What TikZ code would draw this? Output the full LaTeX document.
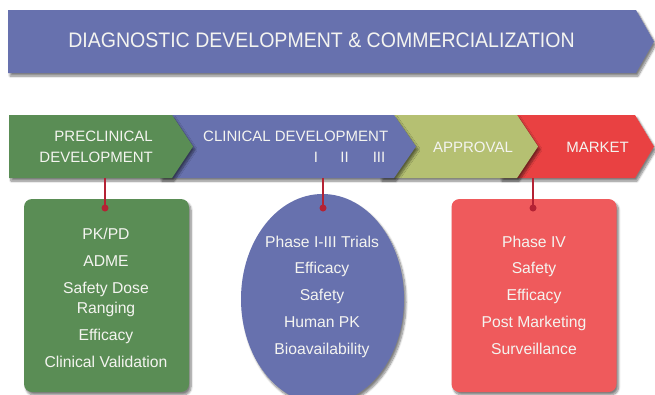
\documentclass[tikz,border=0pt]{standalone}
\usepackage{fontspec}
\setmainfont{Liberation Sans}
\newfontfamily\bannerfont[FakeStretch=0.93]{Liberation Sans}
\usetikzlibrary{shapes.geometric,shadows.blur}
\definecolor{stageblue}{HTML}{6771AE}
\definecolor{stagegreen}{HTML}{5A8D55}
\definecolor{stageolive}{HTML}{B5C072}
\definecolor{stagered}{HTML}{E94142}
\definecolor{cardred}{HTML}{EF5A5C}
\definecolor{linkred}{HTML}{B42234}
\definecolor{txt}{HTML}{F4F4F0}

\begin{document}
\begin{tikzpicture}[x=1pt,y=-1pt,
    shade/.style={blur shadow={shadow xshift=2pt,shadow yshift=-3pt,shadow blur steps=8,shadow opacity=50}},
    stagetext/.style={text=txt,font=\fontsize{15}{21.5}\selectfont,inner sep=0pt},
    itemtext/.style={text=txt,font=\fontsize{15.7}{27}\selectfont,align=center,inner sep=0pt},
    card/.style={rounded corners=8pt,minimum width=165pt,minimum height=193pt,inner sep=0pt,shade},
    linkline/.style={draw=linkred,line width=2pt},
    linkdot/.style={circle,fill=linkred,inner sep=0pt,minimum size=7pt}]
    \clip (0,0) rectangle (655,394);

    % banner
    \fill[stageblue,shade] (8,10) -- (636,10) -- (654,41.5) -- (636,73) -- (8,73) -- cycle;
    \node[stagetext,anchor=base] (title) at (321.5,47.7)
      {\bannerfont\fontsize{21}{21}\selectfont DIAGNOSTIC DEVELOPMENT \& COMMERCIALIZATION};

    % stages, drawn right to left
    \fill[stagered,shade] (500,115) -- (635,115) -- (654,146.5) -- (635,178) -- (500,178) -- cycle;
    \fill[stageolive,shade] (380,115) -- (517,115) -- (538,146.5) -- (517,178) -- (380,178) -- cycle;
    \fill[stageblue,shade] (160,115) -- (394,115) -- (416,146.5) -- (394,178) -- (160,178) -- cycle;
    \fill[stagegreen,shade] (9,115) -- (172,115) -- (193,146.5) -- (172,178) -- (9,178) -- cycle;

    % multi-line nodes: base is the last line
    \node[stagetext,align=right,anchor=base east] (pre) at (153,162.5) {PRECLINICAL\\DEVELOPMENT};
    \node[stagetext,anchor=base west] (clin) at (203,141) {CLINICAL DEVELOPMENT};
    \node[stagetext,anchor=base] (ph1) at (316,162.5) {I};
    \node[stagetext,anchor=base] (ph2) at (344.5,162.5) {II};
    \node[stagetext,anchor=base] (ph3) at (379,162.5) {III};
    \node[stagetext,anchor=base] (appr) at (473,152.7) {APPROVAL};
    \node[stagetext,anchor=base] (mkt) at (597.5,152.7) {MARKET};

    % cards
    \node[card,fill=stagegreen] (prebox) at (106.5,295.5) {};
    \node[ellipse,fill=stageblue,shade,minimum width=163pt,minimum height=210pt,inner sep=0pt] (clinbox) at (322.5,299) {};
    \node[card,fill=cardred] (mktbox) at (534,295.5) {};

    \node[itemtext,anchor=base] (prelist) at (106,367)
      {PK/PD\\ADME\\Safety Dose\\[-7pt]Ranging\\Efficacy\\Clinical Validation};
    \node[itemtext,font=\fontsize{15.7}{26.75}\selectfont,anchor=base] (clinlist) at (322,354)
      {Phase I-III Trials\\Efficacy\\Safety\\Human PK\\Bioavailability};
    \node[itemtext,font=\fontsize{15.7}{26.75}\selectfont,anchor=base] (mktlist) at (534,354)
      {Phase IV\\Safety\\Efficacy\\Post Marketing\\Surveillance};

    % connectors
    \foreach \s/\x in {pre/105,clin/323,mkt/533}
    {
      \coordinate (\s-top) at (\x,178);
      \node[linkdot] (\s-dot) at (\x,208) {};
      \draw[linkline] (\s-top) -- (\s-dot.center);
    }
\end{tikzpicture}
\end{document}
